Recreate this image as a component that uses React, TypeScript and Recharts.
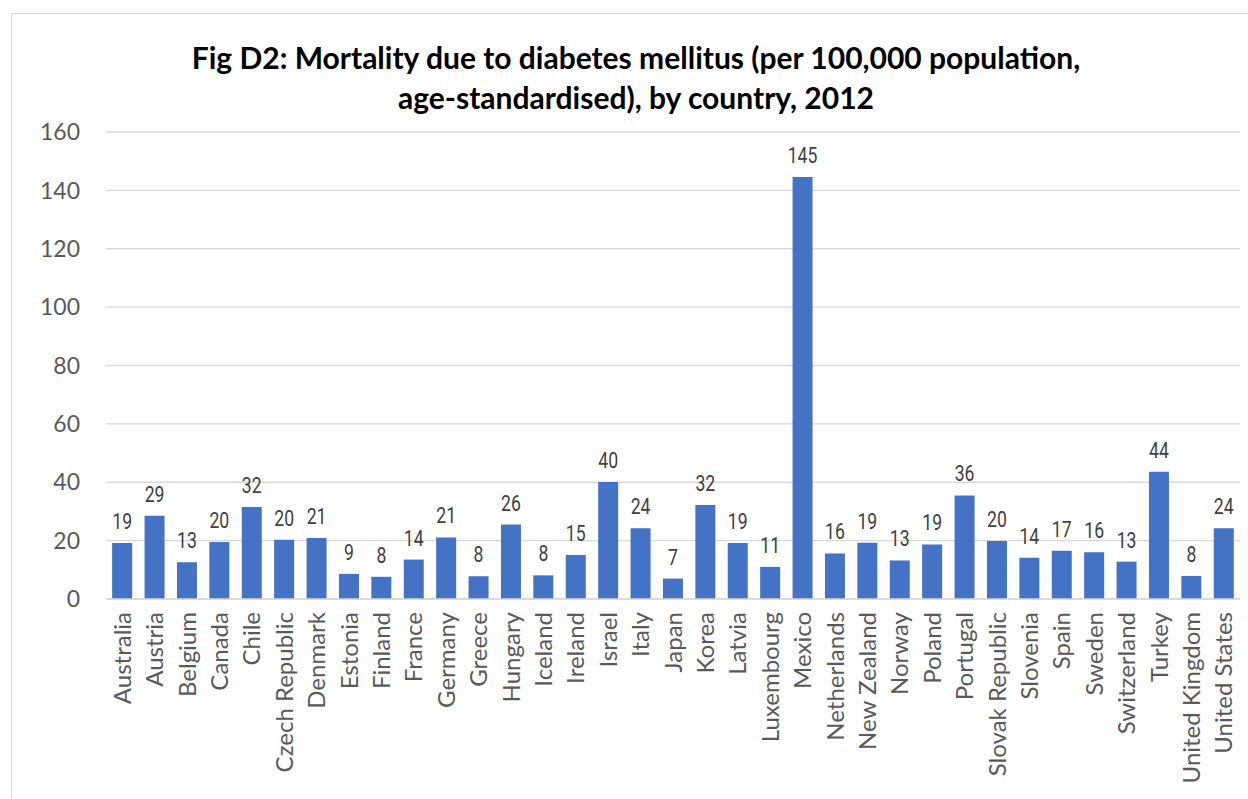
import React from "react";
import { BarChart, Bar, XAxis, YAxis, CartesianGrid, LabelList } from "recharts";

const countries = [
  "Australia", "Austria", "Belgium", "Canada", "Chile", "Czech Republic", "Denmark",
  "Estonia", "Finland", "France", "Germany", "Greece", "Hungary", "Iceland", "Ireland",
  "Israel", "Italy", "Japan", "Korea", "Latvia", "Luxembourg", "Mexico", "Netherlands",
  "New Zealand", "Norway", "Poland", "Portugal", "Slovak Republic", "Slovenia", "Spain",
  "Sweden", "Switzerland", "Turkey", "United Kingdom", "United States",
];

const mortality = [
  19.2, 28.5, 12.6, 19.5, 31.5, 20.3, 20.9,
  8.6, 7.6, 13.5, 21.1, 7.8, 25.5, 8.1, 15.1,
  40.1, 24.2, 7.0, 32.2, 19.2, 11.0, 144.6, 15.6,
  19.3, 13.2, 18.7, 35.5, 19.9, 14.1, 16.5,
  16.0, 12.8, 43.6, 7.9, 24.2,
];

const yTicks = [0, 20, 40, 60, 80, 100, 120, 140, 160];

const titleLines = [
  "Fig D2: Mortality due to diabetes mellitus (per 100,000 population,",
  "age-standardised), by country, 2012",
];

const data = countries.map((c, i) => ({ country: c, value: mortality[i] }));

const FONT = "Lato, 'Noto Sans', sans-serif";

const XTick = (props: any) => {
  const { x, y, payload } = props;
  return (
    <g transform={`translate(${x},${y})`}>
      <text
        transform="rotate(-90)"
        textAnchor="end"
        dx={-5}
        dy="0.36em"
        fill="#595959"
        fontSize={24}
        fontFamily={FONT}
      >
        {payload.value}
      </text>
    </g>
  );
};

const ValueLabel = (props: any) => {
  const { x, y, width, value } = props;
  const cx = Number(x) + Number(width) / 2;
  const by = Number(y) - 14;
  return (
    <text
      transform={`translate(${cx},${by}) scale(0.8,1)`}
      textAnchor="middle"
      fill="#404040"
      fontSize={22}
      fontFamily="Roboto, 'Liberation Sans', sans-serif"
    >
      {Math.round(Number(value))}
    </text>
  );
};

export default function App() {
  return (
    <div style={{ position: "absolute", left: 0, top: 0, width: 1248, height: 799, background: "#fff", overflow: "hidden" }}>
      <div
        style={{
          position: "absolute",
          left: 11,
          top: 13,
          width: 1240,
          height: 800,
          border: "1.5px solid #d9d9d9",
          boxSizing: "border-box",
        }}
      />
      <div
        style={{
          position: "absolute",
          left: 0,
          top: 37,
          width: 1272,
          textAlign: "center",
          fontFamily: FONT,
          fontWeight: 700,
          fontSize: 30,
          lineHeight: "40px",
          color: "#000",
        }}
      >
        {titleLines.map((t, i) => (
          <div key={i}>{t}</div>
        ))}
      </div>
      <div style={{ position: "absolute", left: 0, top: 0 }}>
        <BarChart
          width={1248}
          height={799}
          data={data}
          margin={{ top: 132, right: 8, bottom: 0, left: 0 }}
          barCategoryGap="19%"
        >
          <CartesianGrid vertical={false} stroke="#d9d9d9" strokeWidth={1.3} />
          <XAxis
            dataKey="country"
            interval={0}
            tick={<XTick />}
            tickLine={false}
            axisLine={{ stroke: "#d9d9d9", strokeWidth: 1.3 }}
            height={200}
          />
          <YAxis
            domain={[0, 160]}
            ticks={yTicks}
            width={106}
            tickLine={false}
            axisLine={false}
            tickMargin={20}
            tick={{ fill: "#595959", fontSize: 23, fontFamily: FONT }}
          />
          <Bar dataKey="value" fill="#4472C4" isAnimationActive={false}>
            <LabelList dataKey="value" content={<ValueLabel />} />
          </Bar>
        </BarChart>
      </div>
    </div>
  );
}
